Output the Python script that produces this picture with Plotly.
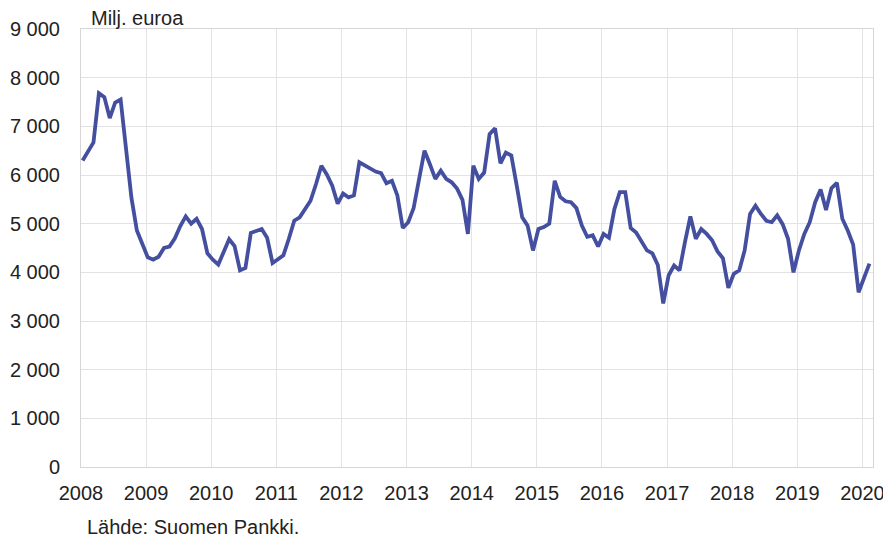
import plotly.graph_objects as go

# Monthly values, Jan 2008 - Feb 2020 (milj. euroa)
start_year = 2008
values = [
    6300, 6470, 6670, 7680, 7600, 7170, 7490, 7550, 6580, 5530, 4860, 4570,  # 2008
    4310, 4260, 4320, 4500, 4530, 4700, 4950, 5150, 5000, 5100, 4890, 4390,  # 2009
    4260, 4160, 4420, 4680, 4540, 4040, 4090, 4810, 4850, 4890, 4710, 4190,  # 2010
    4270, 4350, 4690, 5060, 5130, 5300, 5470, 5810, 6190, 6010, 5780, 5410,  # 2011
    5620, 5540, 5580, 6260, 6190, 6120, 6070, 6040, 5830, 5880, 5580, 4910,  # 2012
    5030, 5320, 5950, 6500, 6220, 5920, 6090, 5920, 5850, 5720, 5490, 4790,  # 2013
    6190, 5920, 6050, 6840, 6960, 6240, 6460, 6400, 5780, 5130, 4960, 4450,  # 2014
    4890, 4930, 5000, 5880, 5550, 5460, 5440, 5320, 4960, 4730, 4760, 4530,  # 2015
    4790, 4710, 5300, 5650, 5650, 4910, 4820, 4620, 4450, 4390, 4150, 3360,  # 2016
    3940, 4140, 4040, 4620, 5150, 4690, 4890, 4790, 4660, 4430, 4290, 3680,  # 2017
    3970, 4040, 4450, 5200, 5370, 5200, 5060, 5030, 5170, 4990, 4690, 4000,  # 2018
    4450, 4790, 5030, 5440, 5700, 5280, 5730, 5840, 5100, 4860, 4570, 3590,  # 2019
    3870, 4180,                                                              # 2020
]
x_years = [start_year + (i + 0.3) / 12 for i in range(len(values))]

year_ticks = list(range(2008, 2021))
year_labels = [str(y) for y in year_ticks]
y_ticks = list(range(0, 9001, 1000))
y_labels = [f"{v:,}".replace(",", " ") for v in y_ticks]

unit_label = "Milj. euroa"
source_label = "Lähde: Suomen Pankki."

FONT = "Liberation Sans, Arial, sans-serif"
GRID = "#e3e3e3"

fig = go.Figure()
fig.add_trace(go.Scatter(
    x=x_years, y=values, mode="lines",
    line=dict(color="#444f9f", width=3.8),
    hoverinfo="skip", showlegend=False,
))

# page body has an 8px default margin; size/margins compensate for it
fig.update_layout(
    width=883, height=530,
    margin=dict(l=73, r=18, t=21, b=71, autoexpand=False),
    paper_bgcolor="white", plot_bgcolor="white",
    font=dict(family=FONT, size=20, color="#222222"),
    xaxis=dict(
        range=[2008, 2020.163], tickvals=year_ticks, ticktext=year_labels,
        showgrid=True, gridcolor=GRID, gridwidth=1,
        showline=True, linecolor="#d6d6d6", linewidth=1, mirror=True,
        ticks="", ticklabelstandoff=8, zeroline=False, automargin=False,
        tickfont=dict(family=FONT, size=20, color="#222222"),
    ),
    yaxis=dict(
        range=[0, 9000], tickvals=y_ticks, ticktext=y_labels,
        showgrid=True, gridcolor=GRID, gridwidth=1,
        showline=True, linecolor="#d6d6d6", linewidth=1, mirror=True,
        ticks="", ticklabelstandoff=16, zeroline=False, automargin=False,
        tickfont=dict(family=FONT, size=20, color="#222222"),
    ),
    annotations=[
        dict(text=unit_label, xref="paper", yref="paper", x=0.0101, y=1.025,
             xanchor="left", yanchor="middle", showarrow=False,
             font=dict(family=FONT, size=20, color="#222222")),
        dict(text=source_label, xref="paper", yref="paper", x=0.005, y=-0.137,
             xanchor="left", yanchor="middle", showarrow=False,
             font=dict(family=FONT, size=20, color="#222222")),
    ],
)

fig.write_html("out.html")
